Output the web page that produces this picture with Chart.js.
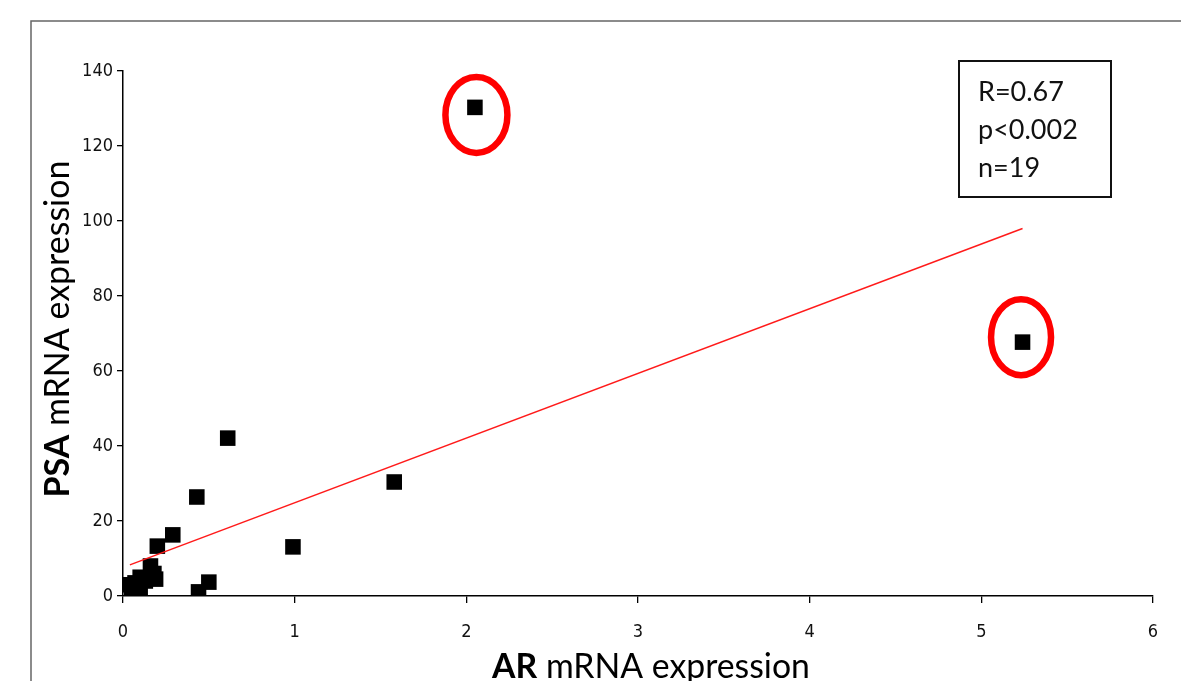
<!DOCTYPE html>
<html>
<head>
<meta charset="utf-8">
<script src="https://cdn.jsdelivr.net/npm/chart.js@4.4.1/dist/chart.umd.min.js"></script>
<style>
  html, body { margin: 0; padding: 0; background: #fff; }
  #wrap { width: 1181px; height: 681px; position: relative; }
</style>
</head>
<body>
<div id="wrap"><canvas id="scatterChart" width="1181" height="681"></canvas></div>
<script>
// AR vs PSA mRNA expression (19 samples)
const arValues  = [2.05, 5.24, 1.58, 0.99, 0.61, 0.43, 0.29, 0.20, 0.50, 0.44,
                   0.03, 0.05, 0.10, 0.10, 0.13, 0.16, 0.18, 0.19, 0.07];
const psaValues = [130.3, 67.7, 30.4, 13.1, 42.1, 26.4, 16.3, 13.3, 3.7, 1.1,
                   3.0, 1.0, 2.0, 5.0, 4.0, 8.0, 6.0, 4.5, 3.5];

// regression line end points
const trendX = [0.04, 5.24];
const trendY = [8.3, 98.0];

const xTicks = [0, 1, 2, 3, 4, 5, 6];
const yTicks = [0, 20, 40, 60, 80, 100, 120, 140];

const statsLines = ['R=0.67', 'p<0.002', 'n=19'];
const outlierIdx = [0, 1];

const scatterPoints = arValues.map((x, i) => ({ x: x, y: psaValues[i] }));
const trendPoints = trendX.map((x, i) => ({ x: x, y: trendY[i] }));

const textFont = 'Lato, "Open Sans", "Liberation Sans", sans-serif';
const tickFont = '"Liberation Sans Narrow", "DejaVu Sans Condensed", "Liberation Sans", sans-serif';

// outer frame, stats box, axis titles and red circles
const decorPlugin = {
    id: 'decor',
    afterDraw(chart) {
        const ctx = chart.ctx;
        const xs = chart.scales.x, ys = chart.scales.y;
        ctx.save();

        // frame
        ctx.strokeStyle = '#666';
        ctx.lineWidth = 1.5;
        ctx.beginPath();
        ctx.moveTo(31, 681);
        ctx.lineTo(31, 21);
        ctx.lineTo(1181, 21);
        ctx.stroke();

        // red circles round the outliers
        const offs = [[1.5, 7.5, 31, 38], [-1.5, -5, 30, 38]];
        ctx.strokeStyle = '#ff0000';
        ctx.lineWidth = 6.5;
        outlierIdx.forEach((idx, k) => {
            const cx = xs.getPixelForValue(arValues[idx]) + offs[k][0];
            const cy = ys.getPixelForValue(psaValues[idx]) + offs[k][1];
            ctx.beginPath();
            ctx.ellipse(cx, cy, offs[k][2], offs[k][3], 0, 0, Math.PI * 2);
            ctx.stroke();
        });

        // stats box
        ctx.strokeStyle = '#111';
        ctx.lineWidth = 2;
        ctx.strokeRect(959, 61, 152, 136);
        ctx.fillStyle = '#111';
        ctx.font = '27px ' + textFont;
        ctx.textBaseline = 'middle';
        ctx.textAlign = 'left';
        statsLines.forEach((s, i) => ctx.fillText(s, 978, 92 + i * 38));

        // axis titles, sized to the reference widths
        drawTitle(ctx, 'AR', ' mRNA expression', 651, 667, 0, 318);
        drawTitle(ctx, 'PSA', ' mRNA expression', 58, 329, -Math.PI / 2, 337);

        ctx.restore();
    }
};

function drawTitle(ctx, boldPart, rest, cx, cy, rot, target) {
    ctx.save();
    ctx.translate(cx, cy);
    ctx.rotate(rot);
    ctx.fillStyle = '#000';
    ctx.textBaseline = 'middle';
    ctx.textAlign = 'left';
    let size = 30;
    const measure = sz => {
        ctx.font = 'bold ' + sz + 'px ' + textFont;
        const a = ctx.measureText(boldPart).width;
        ctx.font = sz + 'px ' + textFont;
        return [a, ctx.measureText(rest).width];
    };
    let [wb, wr] = measure(size);
    size = size * target / (wb + wr);
    [wb, wr] = measure(size);
    const start = -(wb + wr) / 2;
    ctx.font = 'bold ' + size + 'px ' + textFont;
    ctx.fillText(boldPart, start, 0);
    ctx.font = size + 'px ' + textFont;
    ctx.fillText(rest, start + wb, 0);
    ctx.restore();
}

new Chart(document.getElementById('scatterChart'), {
    type: 'scatter',
    data: {
        datasets: [{
            label: 'Trend',
            data: trendPoints,
            showLine: true,
            borderColor: '#ff1a1a',
            borderWidth: 1.5,
            pointRadius: 0,
            fill: false
        }, {
            label: 'Samples',
            data: scatterPoints,
            pointStyle: 'rect',
            pointRadius: 11,
            pointHoverRadius: 11,
            backgroundColor: '#000',
            borderColor: '#000',
            borderWidth: 0
        }]
    },
    options: {
        responsive: false,
        animation: false,
        layout: { padding: { left: 0, top: 71, right: 28, bottom: 0 } },
        plugins: {
            legend: { display: false },
            tooltip: { enabled: false }
        },
        scales: {
            x: {
                type: 'linear',
                min: 0, max: 6,
                afterFit: s => { s.height = 85; },
                afterBuildTicks: s => { s.ticks = xTicks.map(v => ({ value: v })); },
                grid: { drawOnChartArea: false, drawTicks: true, tickLength: 7, color: '#000', lineWidth: 1.3 },
                border: { display: true, color: '#000', width: 1.5 },
                ticks: { color: '#111', padding: 19, font: { family: tickFont, size: 18 } }
            },
            y: {
                type: 'linear',
                min: 0, max: 140,
                afterFit: s => { s.width = 123; },
                afterBuildTicks: s => { s.ticks = yTicks.map(v => ({ value: v })); },
                grid: { drawOnChartArea: false, drawTicks: true, tickLength: 6, color: '#000', lineWidth: 1.3 },
                border: { display: true, color: '#000', width: 1.5 },
                ticks: { color: '#111', padding: 4, font: { family: tickFont, size: 18 } }
            }
        }
    },
    plugins: [decorPlugin]
});
</script>
</body>
</html>
